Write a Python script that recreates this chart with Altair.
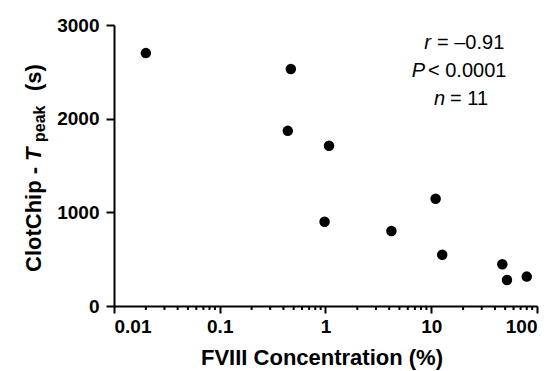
import altair as alt
import pandas as pd

# Data
fviii_pct = [0.02, 0.47, 0.44, 1.08, 0.98, 4.2, 11.0, 12.7, 47.0, 52.0, 80.0]
tpeak_s = [2700, 2530, 1870, 1710, 900, 800, 1145, 547, 445, 278, 314]

x_decades = [0.01, 0.1, 1, 10, 100]
x_minor_mult = [2, 3, 4, 5, 6, 7, 8, 9]
y_ticks = [0, 1000, 2000, 3000]

x_minor = [round(d * m, 6) for d in x_decades[:-1] for m in x_minor_mult]

df = pd.DataFrame({"fviii": fviii_pct, "tpeak": tpeak_s})
df_minor = pd.DataFrame({"fviii": x_minor})

FONT = "Liberation Sans"
W, H = 423, 281

x_scale = alt.Scale(type="log", domain=[0.01, 100], nice=False)

x_enc = alt.X(
    "fviii:Q",
    scale=x_scale,
    axis=alt.Axis(
        values=x_decades,
        labelExpr="format(datum.value, '~g')",
        tickSize=7,
        title=None,
        labelFontSize=19,
        labelPadding=4,
        grid=False,
    ),
)
y_enc = alt.Y(
    "tpeak:Q",
    scale=alt.Scale(domain=[0, 3000], nice=False),
    axis=alt.Axis(
        values=y_ticks,
        format="d",
        tickSize=8,
        labelPadding=7,
        labelFontSize=19,
        title=None,
        grid=False,
    ),
)

points = alt.Chart(df).mark_circle(size=110, color="black", opacity=1).encode(x=x_enc, y=y_enc)

minor_ticks = alt.Chart(df_minor).mark_rule(color="black", strokeWidth=2).encode(
    x=alt.X("fviii:Q", scale=x_scale),
    y=alt.value(H),
    y2=alt.value(H + 4),
)


def txt(s, x, y, size, style="normal", weight="normal", align="left", angle=0):
    return alt.Chart(pd.DataFrame({"t": [s]})).mark_text(
        font=FONT, fontSize=size, fontStyle=style, fontWeight=weight,
        align=align, baseline="alphabetic", angle=angle, color="black",
    ).encode(text="t:N", x=alt.value(x), y=alt.value(y))


annots = [
    txt("r", 317, 24, 20, style="italic", align="right"),
    txt("= –0.91", 323, 24, 20),
    txt("P", 311, 52, 20, style="italic", align="right"),
    txt("< 0.0001", 314, 52, 20),
    txt("n", 331, 80, 20, style="italic", align="right"),
    txt("= 11", 336, 80, 20),
    # y-axis title with italic T and subscript "peak"
    txt("ClotChip - ", -73, 247, 22, weight="bold", angle=270),
    txt("T", -73, 136, 22, style="italic", weight="bold", angle=270),
    txt("peak", -69.5, 117, 16, weight="bold", angle=270),
    txt("(s)", -73, 66, 22, weight="bold", angle=270),
    # x-axis title
    txt("FVIII Concentration (%)", 208, 340, 22, weight="bold", align="center"),
]

chart = alt.layer(points, minor_ticks, *annots).properties(
    width=W, height=H,
    autosize=alt.AutoSizeParams(type="none"),
    padding={"left": 106, "top": 17, "right": 10, "bottom": 64},
).configure_view(stroke=None).configure_axis(
    domainColor="black", domainWidth=2, tickColor="black", tickWidth=2,
    labelColor="black", labelFont=FONT, labelFontWeight="bold",
)

chart.save("out.html", embed_options={"renderer": "svg", "actions": False})
